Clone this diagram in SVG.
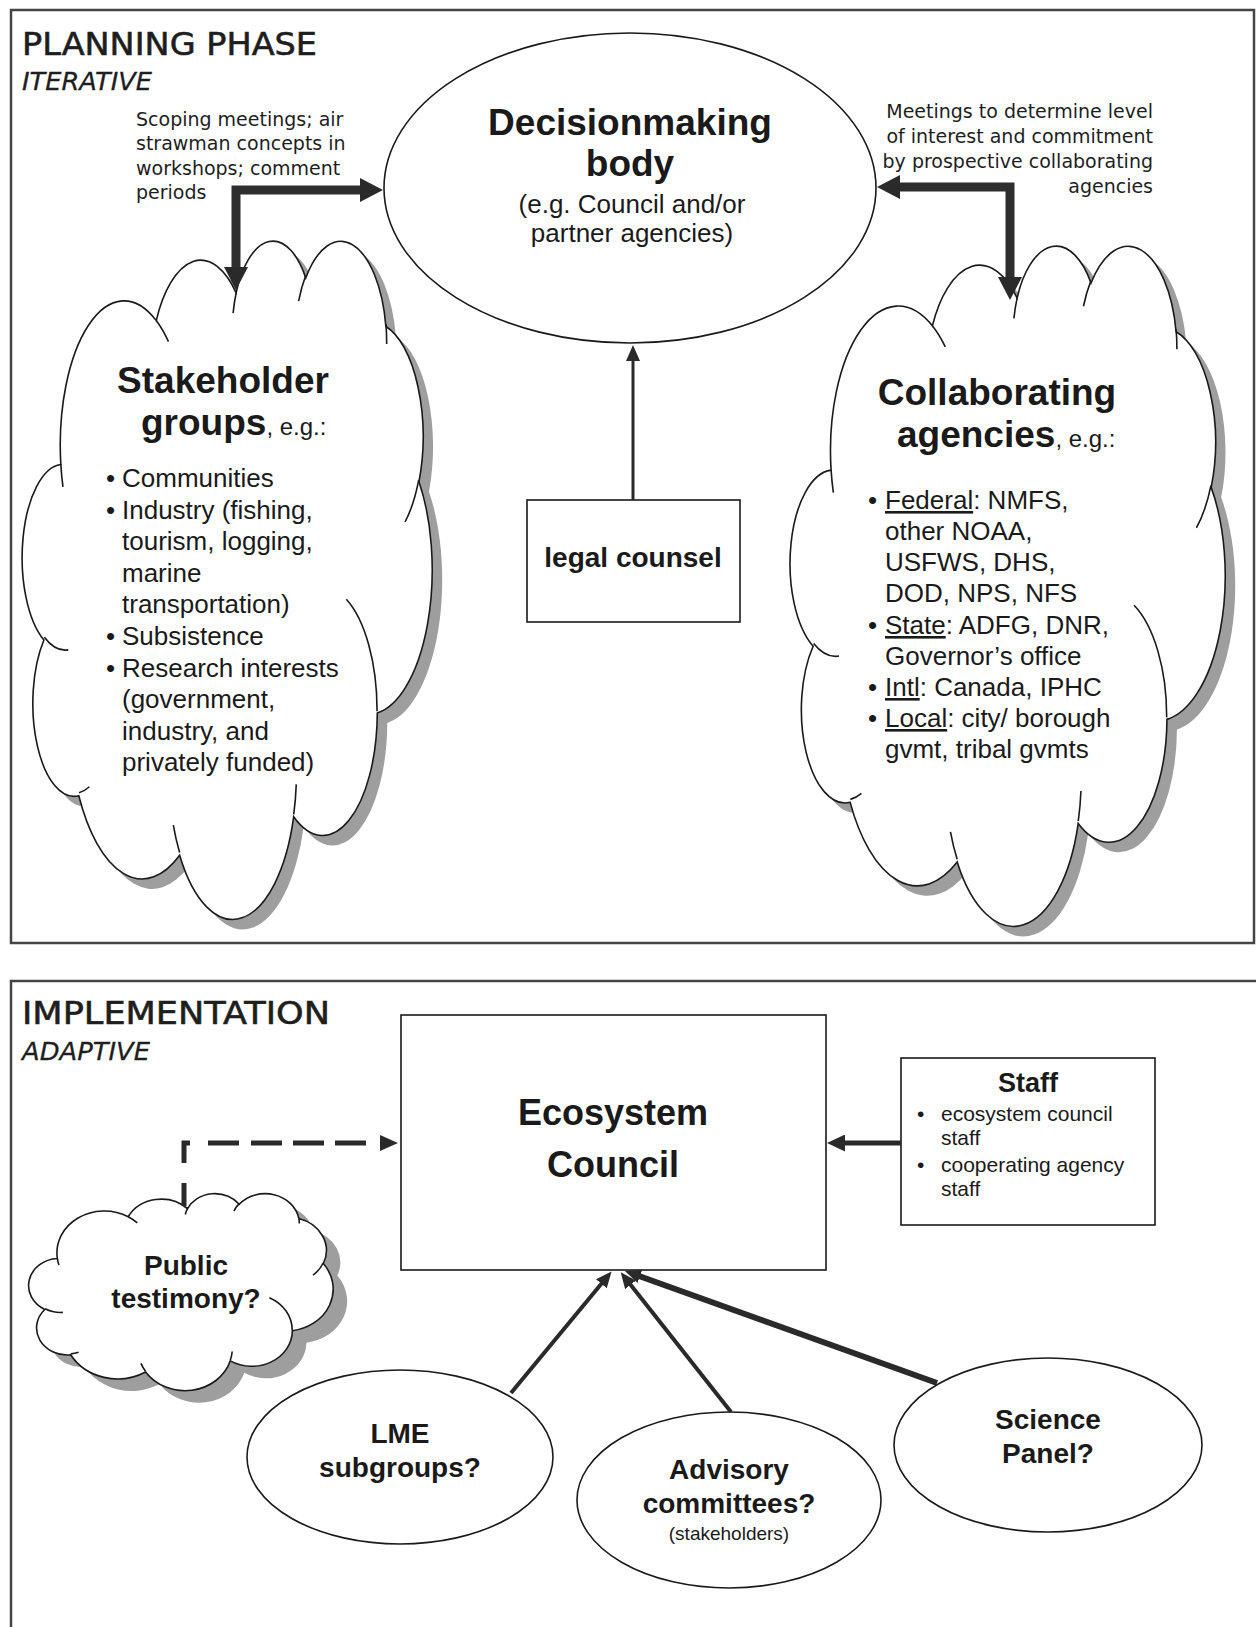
<svg xmlns="http://www.w3.org/2000/svg" width="1256" height="1627" viewBox="0 0 1256 1627">
<defs>
<style>
.title{font-family:"DejaVu Sans","Liberation Sans",sans-serif;font-size:32px;fill:#1e1e1e;stroke:#1e1e1e;stroke-width:0.6}
.sub{font-family:"DejaVu Sans","Liberation Sans",sans-serif;font-size:25px;font-style:italic;fill:#1e1e1e;stroke:#1e1e1e;stroke-width:0.3}
.note{font-family:"DejaVu Sans","Liberation Sans",sans-serif;font-size:19px;fill:#1e1e1e}
.h{font-family:"Liberation Sans",Arial,sans-serif;font-weight:bold;fill:#1a1a1a}
.t{font-family:"Liberation Sans",Arial,sans-serif;fill:#1a1a1a}
.frame{fill:none;stroke:#444;stroke-width:2.5}
.shape{fill:#fff;stroke:#1a1a1a;stroke-width:1.6}
.crease{fill:none;stroke:#1a1a1a;stroke-width:1.6}
.shadow{fill:#9e9e9e;stroke:none}
.thick{fill:none;stroke:#2e2e2e;stroke-width:9}
.line{fill:none;stroke:#2a2a2a;stroke-width:4}
.head{fill:#2a2a2a;stroke:none}
</style>
<marker id="hThick" markerUnits="userSpaceOnUse" markerWidth="24" markerHeight="24" refX="1" refY="12" orient="auto-start-reverse" viewBox="0 0 24 24"><path class="head" d="M0,0 L23,12 L0,24 z"/></marker>
<marker id="hMid" markerUnits="userSpaceOnUse" markerWidth="18" markerHeight="17" refX="1" refY="8.5" orient="auto" viewBox="0 0 18 17"><path class="head" d="M0,0 L18,8.5 L0,17 z"/></marker>
<marker id="hSmall" markerUnits="userSpaceOnUse" markerWidth="16" markerHeight="14" refX="1" refY="7" orient="auto" viewBox="0 0 16 14"><path class="head" d="M0,0 L16,7 L0,14 z"/></marker>
<path id="cloud" vector-effect="non-scaling-stroke" d="M9.03 33.26 A15.63 21.27 0 0 1 32.42 12.04 A12.35 16.82 0 0 1 51.98 7.94 A10.10 13.76 0 0 1 69.06 5.74 A11.24 15.27 0 0 1 88.70 12.91 A12.35 16.84 0 0 1 96.81 35.79 A15.68 21.34 0 0 1 86.59 69.91 A13.39 18.21 0 0 1 66.10 85.21 A15.63 21.33 0 0 1 38.15 90.89 A17.87 24.41 0 0 1 13.43 82.11 A10.09 13.70 0 0 1 4.88 59.15 A10.06 13.76 0 0 1 9.03 33.26 Z"/>
<path id="creases" vector-effect="non-scaling-stroke" d="M10.86 60.60 A10.06 13.76 0 0 1 5.00 58.75 M16.04 80.79 A10.09 13.70 0 0 1 13.47 81.67 M38.14 90.49 A15.63 21.33 0 0 1 36.60 86.46 M66.73 80.44 A15.63 21.33 0 0 1 66.11 84.86 M79.00 53.13 A13.39 18.21 0 0 1 86.53 69.65 M96.75 35.54 A12.35 16.84 0 0 1 93.40 41.74 M88.71 12.56 A11.24 15.27 0 0 1 88.89 15.49 M67.31 9.15 A11.24 15.27 0 0 1 69.03 5.42 M51.25 10.93 A10.10 13.76 0 0 1 52.08 7.71 M32.41 12.02 A15.63 21.27 0 0 1 35.41 15.14 M9.55 36.55 A15.63 21.27 0 0 1 9.03 33.26"/>
</defs>
<rect width="1256" height="1627" fill="#fff"/>

<g id="planning-panel">
<rect class="frame" x="11" y="10" width="1243" height="933"/>
<text class="title" x="22" y="55" textLength="295" lengthAdjust="spacingAndGlyphs">PLANNING PHASE</text>
<text class="sub" x="22" y="90" textLength="130" lengthAdjust="spacingAndGlyphs">ITERATIVE</text>
</g>

<g id="implementation-panel">
<path class="frame" d="M11 1627 V981 H1256"/>
<text class="title" x="22" y="1024" textLength="308" lengthAdjust="spacingAndGlyphs">IMPLEMENTATION</text>
<text class="sub" x="22" y="1060" textLength="128" lengthAdjust="spacingAndGlyphs">ADAPTIVE</text>
</g>

<g id="note-scoping">
<text class="note" x="136" y="126">Scoping meetings; air</text>
<text class="note" x="136" y="150">strawman concepts in</text>
<text class="note" x="136" y="175">workshops; comment</text>
<text class="note" x="136" y="199">periods</text>
</g>

<g id="note-meetings">
<text class="note" x="1153" y="118" text-anchor="end">Meetings to determine level</text>
<text class="note" x="1153" y="143" text-anchor="end">of interest and commitment</text>
<text class="note" x="1153" y="168" text-anchor="end">by prospective collaborating</text>
<text class="note" x="1153" y="193" text-anchor="end">agencies</text>
</g>

<g id="decisionmaking-body">
<ellipse class="shape" cx="630" cy="188" rx="246" ry="155"/>
<text class="h" x="630" y="135" font-size="37" text-anchor="middle">Decisionmaking</text>
<text class="h" x="630" y="176" font-size="37" text-anchor="middle">body</text>
<text class="t" x="632" y="213" font-size="26" text-anchor="middle">(e.g. Council and/or</text>
<text class="t" x="632" y="242" font-size="26" text-anchor="middle">partner agencies)</text>
</g>

<g id="stakeholder-groups">
<g transform="translate(10,10)"><use href="#cloud" class="shadow" transform="translate(24,239) scale(4.08,6.78)"/></g>
<use href="#cloud" class="shape" transform="translate(24,239) scale(4.08,6.78)"/>
<use href="#creases" class="crease" transform="translate(24,239) scale(4.08,6.78)"/>
<text class="h" x="223" y="393" font-size="37" text-anchor="middle">Stakeholder</text>
<text class="h" x="141" y="435" font-size="37">groups<tspan class="t" font-weight="normal" font-size="24">, e.g.:</tspan></text>
<text class="t" font-size="26" x="106" y="487">•</text>
<text class="t" font-size="26" x="106" y="519">•</text>
<text class="t" font-size="26" x="106" y="645">•</text>
<text class="t" font-size="26" x="106" y="677">•</text>
<text class="t" font-size="26" x="122" y="487">Communities</text>
<text class="t" font-size="26" x="122" y="519">Industry (fishing,</text>
<text class="t" font-size="26" x="122" y="550">tourism, logging,</text>
<text class="t" font-size="26" x="122" y="582">marine</text>
<text class="t" font-size="26" x="122" y="613">transportation)</text>
<text class="t" font-size="26" x="122" y="645">Subsistence</text>
<text class="t" font-size="26" x="122" y="677">Research interests</text>
<text class="t" font-size="26" x="122" y="708">(government,</text>
<text class="t" font-size="26" x="122" y="740">industry, and</text>
<text class="t" font-size="26" x="122" y="771">privately funded)</text>
</g>

<g id="collaborating-agencies">
<g transform="translate(10,10)"><use href="#cloud" class="shadow" transform="translate(792,244) scale(4.33,6.8)"/></g>
<use href="#cloud" class="shape" transform="translate(792,244) scale(4.33,6.8)"/>
<use href="#creases" class="crease" transform="translate(792,244) scale(4.33,6.8)"/>
<text class="h" x="997" y="405" font-size="37" text-anchor="middle">Collaborating</text>
<text class="h" x="897" y="447" font-size="37">agencies<tspan class="t" font-weight="normal" font-size="24">, e.g.:</tspan></text>
<text class="t" font-size="26" x="868" y="509">•</text>
<text class="t" font-size="26" x="868" y="634">•</text>
<text class="t" font-size="26" x="868" y="696">•</text>
<text class="t" font-size="26" x="868" y="727">•</text>
<text class="t" font-size="26" x="885" y="509"><tspan text-decoration="underline">Federal</tspan>: NMFS,</text>
<text class="t" font-size="26" x="885" y="540">other NOAA,</text>
<text class="t" font-size="26" x="885" y="571">USFWS, DHS,</text>
<text class="t" font-size="26" x="885" y="602">DOD, NPS, NFS</text>
<text class="t" font-size="26" x="885" y="634"><tspan text-decoration="underline">State</tspan>: ADFG, DNR,</text>
<text class="t" font-size="26" x="885" y="665">Governor’s office</text>
<text class="t" font-size="26" x="885" y="696"><tspan text-decoration="underline">Intl</tspan>: Canada, IPHC</text>
<text class="t" font-size="26" x="885" y="727"><tspan text-decoration="underline">Local</tspan>: city/ borough</text>
<text class="t" font-size="26" x="885" y="758">gvmt, tribal gvmts</text>
</g>

<g id="legal-counsel">
<rect class="shape" x="527" y="500" width="213" height="122"/>
<text class="h" x="633" y="567" font-size="28" text-anchor="middle">legal counsel</text>
</g>

<g id="ecosystem-council">
<rect class="shape" x="401" y="1015" width="425" height="255"/>
<text class="h" x="613" y="1125" font-size="36" text-anchor="middle">Ecosystem</text>
<text class="h" x="613" y="1177" font-size="36" text-anchor="middle">Council</text>
</g>

<g id="staff">
<rect class="shape" x="901" y="1058" width="254" height="167"/>
<text class="h" x="1028" y="1092" font-size="27" text-anchor="middle">Staff</text>
<text class="t" font-size="21" x="917" y="1121">•</text>
<text class="t" font-size="21" x="917" y="1172">•</text>
<text class="t" font-size="21" x="941" y="1121">ecosystem council</text>
<text class="t" font-size="21" x="941" y="1145">staff</text>
<text class="t" font-size="21" x="941" y="1172">cooperating agency</text>
<text class="t" font-size="21" x="941" y="1196">staff</text>
</g>

<g id="public-testimony">
<g transform="translate(14,12)"><use href="#cloud" class="shadow" transform="translate(30,1193) scale(3.03,1.97)"/></g>
<use href="#cloud" class="shape" transform="translate(30,1193) scale(3.03,1.97)"/>
<use href="#creases" class="crease" transform="translate(30,1193) scale(3.03,1.97)"/>
<text class="h" x="186" y="1275" font-size="28" text-anchor="middle">Public</text>
<text class="h" x="186" y="1308" font-size="28" text-anchor="middle">testimony?</text>
</g>

<g id="lme-subgroups">
<ellipse class="shape" cx="400" cy="1457" rx="153" ry="87"/>
<text class="h" x="400" y="1443" font-size="28" text-anchor="middle">LME</text>
<text class="h" x="400" y="1477" font-size="28" text-anchor="middle">subgroups?</text>
</g>

<g id="advisory-committees">
<ellipse class="shape" cx="729" cy="1500" rx="152" ry="88"/>
<text class="h" x="729" y="1479" font-size="28" text-anchor="middle">Advisory</text>
<text class="h" x="729" y="1513" font-size="28" text-anchor="middle">committees?</text>
<text class="t" x="729" y="1540" font-size="19" text-anchor="middle">(stakeholders)</text>
</g>

<g id="science-panel">
<ellipse class="shape" cx="1048" cy="1445" rx="154" ry="87"/>
<text class="h" x="1048" y="1429" font-size="28" text-anchor="middle">Science</text>
<text class="h" x="1048" y="1463" font-size="28" text-anchor="middle">Panel?</text>
</g>

<g id="connectors">
<path class="thick" d="M236 268 V190 H361" marker-start="url(#hThick)" marker-end="url(#hThick)"/>
<path class="thick" d="M899 187 H1010 V278" marker-start="url(#hThick)" marker-end="url(#hThick)"/>
<path class="line" style="stroke-width:3" d="M633 500 V360" marker-end="url(#hSmall)"/>
<path class="line" style="stroke-width:5" d="M901 1143 H844" marker-end="url(#hMid)"/>
<path class="line" style="stroke-width:5" d="M184 1206 V1183 M184 1163 V1143 H190 M208 1143 H239 M251 1143 H282 M293 1143 H324 M335 1143 H366"/>
<path class="head" d="M380 1135 L398 1143 L380 1151 z"/>
<path class="line" d="M511 1393 L602 1283" marker-end="url(#hSmall)"/>
<path class="line" d="M731 1412 L630 1284" marker-end="url(#hSmall)"/>
<path class="line" style="stroke-width:6" d="M937 1383 L639 1276" marker-end="url(#hSmall)"/>
</g>
</svg>
